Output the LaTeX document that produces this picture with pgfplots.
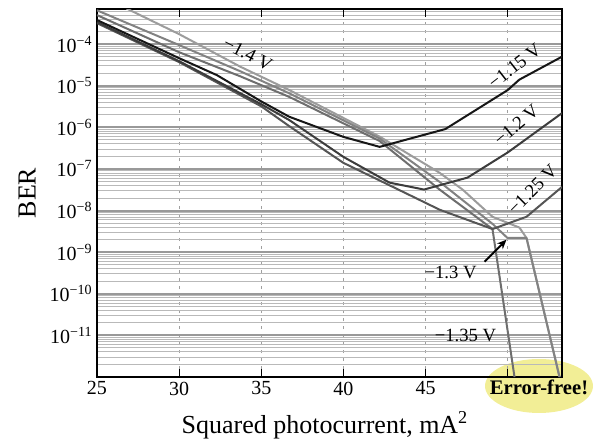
\documentclass[border=0pt]{standalone}
\usepackage{fontspec}
\setmainfont{Liberation Serif}
\usepackage{pgfplots}
\pgfplotsset{compat=1.18}
\usetikzlibrary{arrows.meta}
\definecolor{cA}{HTML}{161616}
\definecolor{cB}{HTML}{3C3C3C}
\definecolor{cC}{HTML}{555555}
\definecolor{cD}{HTML}{6E6E6E}
\definecolor{cE}{HTML}{828282}
\definecolor{cF}{HTML}{9C9C9C}
\definecolor{yel}{RGB}{242,238,150}
\begin{document}
\begin{tikzpicture}
\fill[yel] (331.5pt,-6.75pt) ellipse [x radius=40.5pt, y radius=20.25pt];
\begin{axis}[
  scale only axis, width=348.75pt, height=276pt,
  xmin=25, xmax=53.3, ymode=log, ymin=1e-12, ymax=7e-4,
  axis line style={line width=2.1pt},
  xtick={25,30,35,40,45,50},
  xticklabels={25,30,35,40,45,},
  ytick={1e-12,1e-11,1e-10,1e-9,1e-8,1e-7,1e-6,1e-5,1e-4},
  yticklabels={,10\textsuperscript{−11},10\textsuperscript{−10},10\textsuperscript{−9},10\textsuperscript{−8},10\textsuperscript{−7},10\textsuperscript{−6},10\textsuperscript{−5},10\textsuperscript{−4}},
  minor ytick={2e-12,3e-12,4e-12,5e-12,6e-12,7e-12,8e-12,9e-12,
    2e-11,3e-11,4e-11,5e-11,6e-11,7e-11,8e-11,9e-11,
    2e-10,3e-10,4e-10,5e-10,6e-10,7e-10,8e-10,9e-10,
    2e-9,3e-9,4e-9,5e-9,6e-9,7e-9,8e-9,9e-9,
    2e-8,3e-8,4e-8,5e-8,6e-8,7e-8,8e-8,9e-8,
    2e-7,3e-7,4e-7,5e-7,6e-7,7e-7,8e-7,9e-7,
    2e-6,3e-6,4e-6,5e-6,6e-6,7e-6,8e-6,9e-6,
    2e-5,3e-5,4e-5,5e-5,6e-5,7e-5,8e-5,9e-5,
    2e-4,3e-4,4e-4,5e-4,6e-4},
  xmajorgrids, ymajorgrids, yminorgrids,
  major x grid style={gray!75, dash pattern=on 2.5pt off 3.5pt, line width=0.6pt},
  major y grid style={gray!80, line width=1.5pt},
  minor y grid style={gray!55, line width=0.7pt},
  xtick pos=both, ytick pos=left, tick align=inside,
  major tick length=6pt, minor tick length=0pt,
  xtick style={black, line width=0.8pt},
  ytick style={draw=none},
  /pgf/number format/assume math mode=true,
  ticklabel style={font=\fontsize{15}{18}\selectfont},
  label style={font=\fontsize{19.5}{22}\selectfont},
  xlabel={Squared photocurrent, mA\textsuperscript{2}},
  ylabel={BER},
  xlabel style={at={(axis description cs:0.49,-0.13)}, anchor=center},
  ylabel style={at={(axis description cs:-0.15,0.5)}, anchor=center},
  every axis plot/.append style={line width=1.5pt, line join=round},
]
\addplot[cF] coordinates {(26.8,7.2e-4) (30,1.74e-4) (33.7,2.9e-5) (36.7,7.9e-6) (42.2,6.0e-7) (45.85,8.1e-8) (47.25,3.2e-8) (49.07,7.1e-9) (50.71,3.9e-9) (51.14,2.2e-9) (53.15,1e-12)};
\addplot[cE] coordinates {(25,6.5e-4) (30,9.5e-5) (33.7,2.25e-5) (36.7,6.6e-6) (42.2,5.4e-7) (45.85,4.9e-8) (49.07,4.8e-9) (49.98,2.2e-9) (51.14,2.2e-9) (53.15,1e-12)};
\addplot[cD] coordinates {(25,5.0e-4) (30,6.4e-5) (33.7,1.7e-5) (36.7,5.4e-6) (42.2,4.7e-7) (45.85,3.2e-8) (49.07,3.6e-9) (50.41,1e-12)};
\addplot[cC] coordinates {(25,3.2e-4) (30,3.7e-5) (35,3.2e-6) (36.7,1.07e-6) (40,1.4e-7) (44.4,2.0e-8) (45.85,1.05e-8) (49.07,3.6e-9) (51.14,7.1e-9) (53.3,3.7e-8)};
\addplot[cB] coordinates {(25,3.4e-4) (30,3.9e-5) (35,3.6e-6) (36.7,1.5e-6) (40,1.95e-7) (42.8,4.7e-8) (44.9,3.2e-8) (47.55,6.2e-8) (50,2.5e-7) (53.3,2.2e-6)};
\addplot[cA] coordinates {(25,3.8e-4) (30,4.6e-5) (32.3,1.8e-5) (35,4.2e-6) (36.7,1.8e-6) (40,5.9e-7) (42.2,3.4e-7) (46.2,9.1e-7) (50,7.9e-6) (50.7,1.4e-5) (53.3,5e-5)};
\node[font=\fontsize{14}{16}\selectfont, rotate=-27, inner sep=0pt] at (axis cs:34.18,5.75e-5) {−1.4 V};
\node[font=\fontsize{14}{16}\selectfont, rotate=38, inner sep=0pt] at (axis cs:50.41,2.95e-5) {−1.15 V};
\node[font=\fontsize{14}{16}\selectfont, rotate=40, inner sep=0pt] at (axis cs:50.53,1.15e-6) {−1.2 V};
\node[font=\fontsize{14}{16}\selectfont, rotate=45, inner sep=0pt] at (axis cs:51.5,3.2e-8) {−1.25 V};
\node[font=\fontsize{14}{16}\selectfont] at (axis cs:46.52,3.2e-10) {−1.3 V};
\node[font=\fontsize{14}{16}\selectfont] at (axis cs:47.43,1e-11) {−1.35 V};
\draw[-{Stealth[length=7pt,width=6pt]}, line width=1.5pt, black] (axis cs:48.59,5.9e-10) -- (axis cs:49.92,2.0e-9);
\end{axis}
\node[font=\fontsize{15.5}{18}\selectfont\bfseries] at (331.5pt,-7.5pt) {Error-free!};
\pgfresetboundingbox
\useasboundingbox (-72.75pt,-51.75pt) rectangle (378pt,282.75pt);
\end{tikzpicture}
\end{document}
